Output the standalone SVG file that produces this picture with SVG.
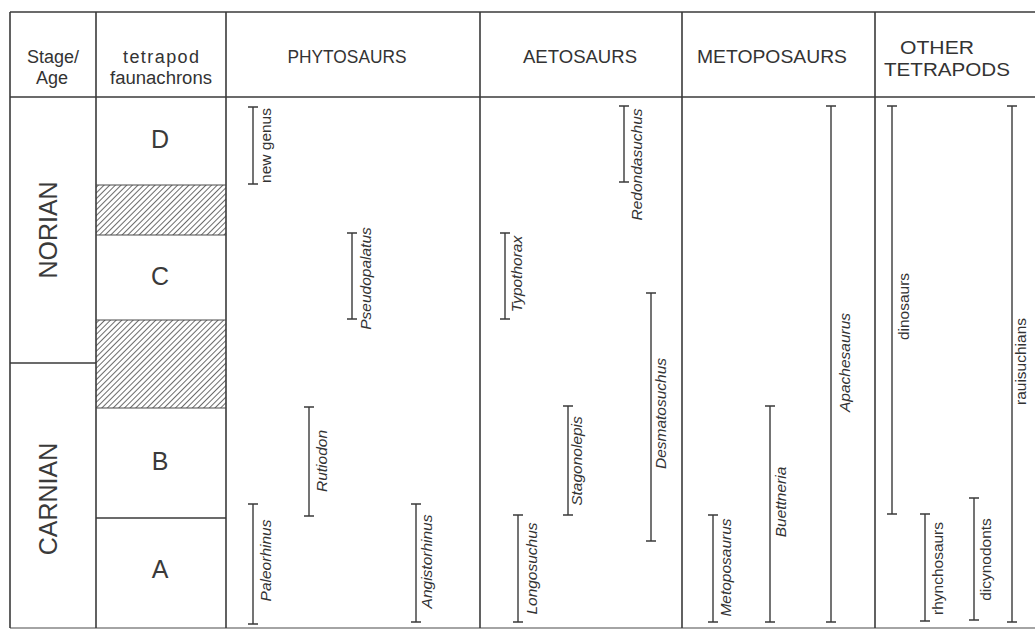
<svg xmlns="http://www.w3.org/2000/svg" width="1035" height="631" viewBox="0 0 1035 631">
<style>
.frame{stroke:#3a3a3a;stroke-width:1.6;fill:none}
.thin{stroke:#4a4a4a;stroke-width:1.2;fill:none}
.bar{stroke:#3a3a3a;stroke-width:1.4;fill:none}
.hd{font-family:"Liberation Sans",Arial,sans-serif;font-size:18px;fill:#333;text-anchor:middle}
.big{font-family:"Liberation Sans",Arial,sans-serif;font-size:25px;fill:#3a3a3a;text-anchor:middle}
.lab{font-family:"Liberation Sans",Arial,sans-serif;font-size:15.5px;fill:#333;text-anchor:middle}
.it{font-style:italic}
</style>
<defs>
<pattern id="hatch" patternUnits="userSpaceOnUse" width="4" height="4" patternTransform="rotate(45)">
<rect width="4" height="4" fill="#fff"/>
<line x1="0" y1="0" x2="0" y2="4" stroke="#3a3a3a" stroke-width="1.5"/>
</pattern>
</defs>
<rect width="1035" height="631" fill="#fff"/>

<g id="grid">
<rect x="96" y="185" width="130" height="50" fill="url(#hatch)"/>
<rect x="96" y="320" width="130" height="88" fill="url(#hatch)"/>
<line class="frame" x1="10" y1="12" x2="1035" y2="12"/>
<line class="frame" x1="10" y1="97" x2="1035" y2="97"/>
<line class="thin" x1="10" y1="628" x2="1035" y2="628"/>
<line class="frame" x1="10" y1="12" x2="10" y2="628"/>
<line class="frame" x1="96" y1="12" x2="96" y2="628"/>
<line class="frame" x1="226" y1="12" x2="226" y2="628"/>
<line class="frame" x1="480" y1="12" x2="480" y2="628"/>
<line class="frame" x1="682" y1="12" x2="682" y2="628"/>
<line class="frame" x1="875" y1="12" x2="875" y2="628"/>
<line class="frame" x1="10" y1="363" x2="96" y2="363"/>
<line class="thin" x1="96" y1="185" x2="226" y2="185"/>
<line class="thin" x1="96" y1="235" x2="226" y2="235"/>
<line class="thin" x1="96" y1="320" x2="226" y2="320"/>
<line class="thin" x1="96" y1="408" x2="226" y2="408"/>
<line class="frame" x1="96" y1="518" x2="226" y2="518"/>
</g>

<g id="headers">
<text class="hd" x="53" y="63" textLength="52" lengthAdjust="spacingAndGlyphs">Stage/</text>
<text class="hd" x="52" y="84">Age</text>
<text class="hd" x="161" y="63" textLength="76" lengthAdjust="spacing">tetrapod</text>
<text class="hd" x="161" y="84" textLength="102" lengthAdjust="spacingAndGlyphs">faunachrons</text>
<text class="hd" x="347" y="63" textLength="119" lengthAdjust="spacingAndGlyphs">PHYTOSAURS</text>
<text class="hd" x="580" y="63" textLength="114" lengthAdjust="spacingAndGlyphs">AETOSAURS</text>
<text class="hd" x="772" y="63" textLength="150" lengthAdjust="spacingAndGlyphs">METOPOSAURS</text>
<text class="hd" x="937" y="54" textLength="74" lengthAdjust="spacingAndGlyphs">OTHER</text>
<text class="hd" x="947" y="76" textLength="126" lengthAdjust="spacingAndGlyphs">TETRAPODS</text>
</g>

<g id="stages">
<text class="big" transform="translate(57,230) rotate(-90)">NORIAN</text>
<text class="big" transform="translate(57,499) rotate(-90)">CARNIAN</text>
</g>

<g id="faunachrons">
<text class="big" x="160" y="148">D</text>
<text class="big" x="160" y="285">C</text>
<text class="big" x="160" y="470">B</text>
<text class="big" x="160" y="578">A</text>
</g>

<g id="ranges">
<g id="new-genus"><path class="bar" d="M253,107V184M248,107H258M248,184H258"/><text class="lab" transform="translate(271,145.5) rotate(-90)">new genus</text></g>
<g id="pseudopalatus"><path class="bar" d="M352,233V319M347,233H357M347,319H357"/><text class="lab it" transform="translate(371,278.5) rotate(-90)">Pseudopalatus</text></g>
<g id="rutiodon"><path class="bar" d="M309,407V516M304,407H314M304,516H314"/><text class="lab it" transform="translate(327,461) rotate(-90)">Rutiodon</text></g>
<g id="paleorhinus"><path class="bar" d="M253,504V624M248,504H258M248,624H258"/><text class="lab it" transform="translate(271,560.5) rotate(-90)">Paleorhinus</text></g>
<g id="angistorhinus"><path class="bar" d="M416,504V622M411,504H421M411,622H421"/><text class="lab it" transform="translate(432,561.5) rotate(-90)">Angistorhinus</text></g>
<g id="redondasuchus"><path class="bar" d="M624,106V182M619,106H629M619,182H629"/><text class="lab it" transform="translate(642,164.5) rotate(-90)">Redondasuchus</text></g>
<g id="typothorax"><path class="bar" d="M505,233V319M500,233H510M500,319H510"/><text class="lab it" transform="translate(522,274) rotate(-90)">Typothorax</text></g>
<g id="desmatosuchus"><path class="bar" d="M651,293V541M646,293H656M646,541H656"/><text class="lab it" transform="translate(666,413.5) rotate(-90)">Desmatosuchus</text></g>
<g id="stagonolepis"><path class="bar" d="M568,406V515M563,406H573M563,515H573"/><text class="lab it" transform="translate(582,461) rotate(-90)">Stagonolepis</text></g>
<g id="longosuchus"><path class="bar" d="M518,515V622M513,515H523M513,622H523"/><text class="lab it" transform="translate(537,568.5) rotate(-90)">Longosuchus</text></g>
<g id="metoposaurus"><path class="bar" d="M713,515V622M708,515H718M708,622H718"/><text class="lab it" transform="translate(731,567.5) rotate(-90)">Metoposaurus</text></g>
<g id="buettneria"><path class="bar" d="M770,406V622M765,406H775M765,622H775"/><text class="lab it" transform="translate(786,502) rotate(-90)">Buettneria</text></g>
<g id="apachesaurus"><path class="bar" d="M831,106V622M826,106H836M826,622H836"/><text class="lab it" transform="translate(850,362.5) rotate(-90)">Apachesaurus</text></g>
<g id="dinosaurs"><path class="bar" d="M892,106V514M887,106H897M887,514H897"/><text class="lab" transform="translate(909,306.5) rotate(-90)">dinosaurs</text></g>
<g id="rhynchosaurs"><path class="bar" d="M925,514V621M920,514H930M920,621H930"/><text class="lab" transform="translate(943,568.5) rotate(-90)">rhynchosaurs</text></g>
<g id="dicynodonts"><path class="bar" d="M974,498V620M969,498H979M969,620H979"/><text class="lab" transform="translate(991,559.5) rotate(-90)">dicynodonts</text></g>
<g id="rauisuchians"><path class="bar" d="M1012,106V622M1007,106H1017M1007,622H1017"/><text class="lab" transform="translate(1026,361.5) rotate(-90)">rauisuchians</text></g>
</g>
</svg>
